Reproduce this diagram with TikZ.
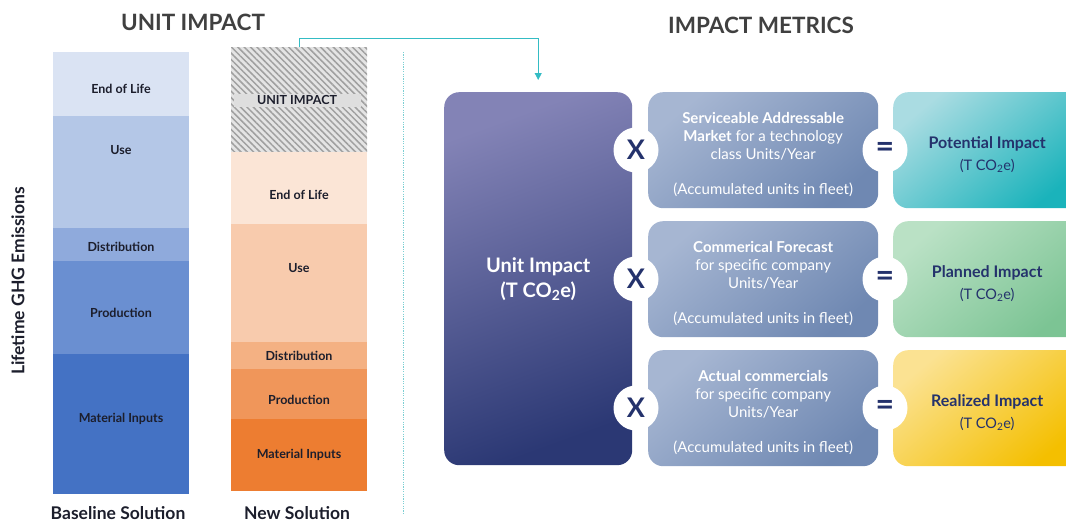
\documentclass[tikz,border=0pt]{standalone}
\usepackage{fontspec}
\setmainfont{Lato}
\usepackage{xcolor}
\usetikzlibrary{positioning,arrows.meta,patterns.meta}
\definecolor{ink}{RGB}{28,30,44}
\definecolor{heading}{RGB}{64,64,64}
\definecolor{navy}{RGB}{36,50,108}
\definecolor{teal}{RGB}{52,188,196}
\definecolor{rule}{RGB}{124,207,211}
\definecolor{bEol}{RGB}{218,227,243}
\definecolor{bUse}{RGB}{180,199,231}
\definecolor{bDist}{RGB}{143,170,220}
\definecolor{bProd}{RGB}{106,143,209}
\definecolor{bMat}{RGB}{68,114,196}
\definecolor{nEol}{RGB}{251,229,214}
\definecolor{nUse}{RGB}{248,203,173}
\definecolor{nDist}{RGB}{244,177,131}
\definecolor{nProd}{RGB}{240,150,90}
\definecolor{nMat}{RGB}{237,125,49}
\definecolor{hatchbg}{RGB}{228,228,228}
\definecolor{hatch}{RGB}{160,160,160}
\definecolor{band}{RGB}{222,222,222}
\definecolor{uiTop}{RGB}{131,131,182}
\definecolor{uiBot}{RGB}{43,56,116}
\definecolor{mkTop}{RGB}{166,182,210}
\definecolor{mkBot}{RGB}{111,136,178}
\definecolor{potTop}{RGB}{170,220,226}
\definecolor{potBot}{RGB}{26,179,187}
\definecolor{plnTop}{RGB}{186,225,197}
\definecolor{plnBot}{RGB}{124,196,148}
\definecolor{relTop}{RGB}{251,226,146}
\definecolor{relBot}{RGB}{244,191,0}
% extra head room on a card's first line
\newcommand{\cardtop}[1]{\rule{0pt}{#1}}

\begin{document}
\begin{tikzpicture}[x=1pt, y=-1pt,
		seg/.style={minimum width=136pt, inner sep=0pt, outer sep=0pt, text=ink,
			font=\bfseries\fontsize{12.5}{14}\selectfont},
		title/.style={text=heading, font=\bfseries\fontsize{22.5}{26}\selectfont},
		axis/.style={text=ink, font=\bfseries\fontsize{17.5}{20}\selectfont},
		card/.style={rounded corners=15pt, inner sep=0pt, align=center, shading angle=40},
		market/.style={card, minimum width=230pt, minimum height=116pt, top color=mkTop,
			bottom color=mkBot, shading angle=40, text=white,
			font=\fontsize{15}{18}\selectfont},
		result/.style={card, minimum width=188pt, minimum height=116pt, text=navy,
			font=\fontsize{14.5}{16}\selectfont},
		op/.style={circle, fill=white, inner sep=0pt, minimum size=45pt, text=navy,
			font=\bfseries\fontsize{27}{28}\selectfont},
		link/.style={-{Triangle[length=7pt, width=7pt]}, thick, teal}]
		\clip (0,0) rectangle (1066,522);
		\node[title] (unitttl) at (193,22) {UNIT IMPACT};
		\node[title] (metricttl) at (761,25) {IMPACT METRICS};
		\node[axis, rotate=90] (ghg) at (18,281) {Lifetime GHG Emissions};
		% baseline stack
		\node[seg, fill=bEol, minimum height=64pt, anchor=north west,
			label={[seg, minimum width=0pt, yshift=-5pt]center:End of Life}] (bEol) at (53,52) {};
		\node[seg, fill=bUse, minimum height=112pt, below=0pt of bEol,
			label={[seg, minimum width=0pt, yshift=22pt]center:Use}] (bUse) {};
		\node[seg, fill=bDist, minimum height=33pt, below=0pt of bUse,
			label={[seg, minimum width=0pt, yshift=-2pt]center:Distribution}] (bDist) {};
		\node[seg, fill=bProd, minimum height=93pt, below=0pt of bDist,
			label={[seg, minimum width=0pt, yshift=-5pt]center:Production}] (bProd) {};
		\node[seg, fill=bMat, minimum height=140pt, below=0pt of bProd,
			label={[seg, minimum width=0pt, yshift=5pt]center:Material Inputs}] (bMat) {};
		\node[axis] (basettl) at (118,513) {Baseline Solution};
		% new solution stack
		\node[seg, minimum height=105pt, anchor=north west, preaction={fill=hatchbg},
			pattern={Lines[angle=-45, distance=4.5pt, line width=1.5pt]}, pattern color=hatch]
			(unit) at (231,47) {};
		\node[seg, fill=band, minimum width=127pt, minimum height=13pt] (unitlbl) at (297,100) {UNIT IMPACT};
		\node[seg, fill=nEol, minimum height=72pt, below=0pt of unit,
			label={[seg, minimum width=0pt, yshift=-7pt]center:End of Life}] (nEol) {};
		\node[seg, fill=nUse, minimum height=118pt, below=0pt of nEol,
			label={[seg, minimum width=0pt, yshift=15pt]center:Use}] (nUse) {};
		\node[seg, fill=nDist, minimum height=27pt, below=0pt of nUse] (nDist) {Distribution};
		\node[seg, fill=nProd, minimum height=50pt, below=0pt of nDist,
			label={[seg, minimum width=0pt, yshift=-6pt]center:Production}] (nProd) {};
		\node[seg, fill=nMat, minimum height=72pt, below=0pt of nProd] (nMat) {Material Inputs};
		\node[axis] (newttl) at (297,513) {New Solution};
		\draw[rule, line width=1pt, dash pattern=on 1.2pt off 1.2pt] (403,52) -- (403,515);
		% metrics
		\node[card, minimum width=188pt, minimum height=373pt, anchor=north west, top color=uiTop,
			bottom color=uiBot, shading angle=20, text=white,
			font=\bfseries\fontsize{20}{25}\selectfont] (unitimp) at (444,92)
			{Unit Impact\\(T CO\textsubscript{2}e)};
		\node[market, anchor=north west] (sam) at (648,92)
			{\cardtop{19pt}\textbf{Serviceable Addressable}\\\textbf{Market} for a technology\\class Units/Year\\[17pt]
			 (Accumulated units in fleet)};
		\node[market, anchor=north west] (fcst) at (648,221)
			{\cardtop{19pt}\textbf{Commerical Forecast}\\for specific company\\Units/Year\\[17pt]
			 (Accumulated units in fleet)};
		\node[market, anchor=north west] (actual) at (648,350)
			{\cardtop{19pt}\textbf{Actual commercials}\\for specific company\\Units/Year\\[17pt]
			 (Accumulated units in fleet)};
		\node[result, anchor=north west, top color=potTop, bottom color=potBot, shading angle=40]
			(pot) at (893,92) {\cardtop{20pt}{\bfseries\fontsize{16}{18}\selectfont Potential Impact}\\[6pt](T CO\textsubscript{2}e)};
		\node[result, anchor=north west, top color=plnTop, bottom color=plnBot, shading angle=40]
			(plan) at (893,221) {\cardtop{20pt}{\bfseries\fontsize{16}{18}\selectfont Planned Impact}\\[6pt](T CO\textsubscript{2}e)};
		\node[result, anchor=north west, top color=relTop, bottom color=relBot, shading angle=40]
			(real) at (893,350) {\cardtop{20pt}{\bfseries\fontsize{16}{18}\selectfont Realized Impact}\\[6pt](T CO\textsubscript{2}e)};
		\foreach \y/\n in {150/1,279/2,408/3} {
			\node[op] (times\n) at (636,\y) {X};
			\node[op, font=\bfseries\fontsize{32}{32}\selectfont] (eq\n) at (885,\y) {=};
		}
		\coordinate (tip) at ([yshift=12pt]unitimp.north);
		\draw[link] (unit.north) -- ++(0,-9) -| (tip);
	\end{tikzpicture}
\end{document}
